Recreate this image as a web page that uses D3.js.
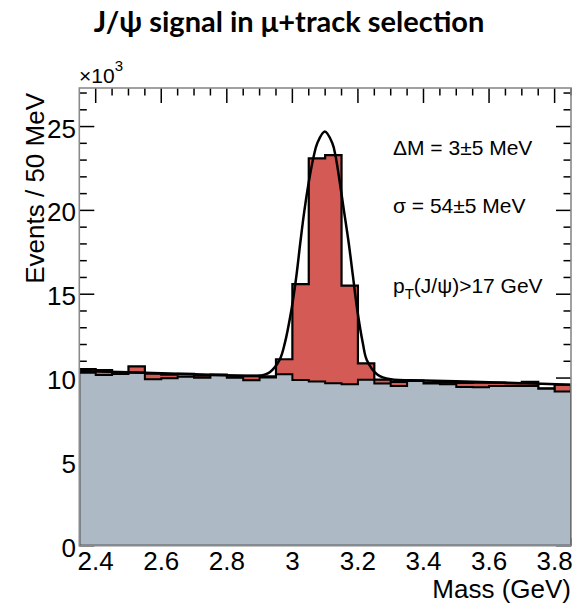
<!DOCTYPE html>
<html>
<head>
<meta charset="utf-8">
<script src="https://cdn.jsdelivr.net/npm/d3@7"></script>
<style>
  body { margin: 0; background: #fff; }
  svg { display: block; }
  text { font-family: "Liberation Sans", Arial, sans-serif; fill: #000; }
</style>
</head>
<body>
<svg id="chart" width="584" height="604"></svg>
<script>
// bin low edges (GeV), 50 MeV wide
var binLow = [2.35, 2.40, 2.45, 2.50, 2.55, 2.60, 2.65, 2.70, 2.75, 2.80,
              2.85, 2.90, 2.95, 3.00, 3.05, 3.10, 3.15, 3.20, 3.25, 3.30,
              3.35, 3.40, 3.45, 3.50, 3.55, 3.60, 3.65, 3.70, 3.75, 3.80];
var binWidth = 0.05;

// events per bin, in thousands
var dataCounts = [10.54, 10.48, 10.36, 10.70, 10.26, 10.20, 10.25, 10.14, 10.20, 10.14,
                  10.14, 10.10, 11.12, 15.60, 23.10, 23.30, 15.51, 10.88, 9.90, 9.77,
                  9.85, 9.71, 9.73, 9.71, 9.73, 9.73, 9.69, 9.77, 9.38, 9.60];
var bkgCounts = [10.32, 10.18, 10.24, 10.32, 9.93, 9.99, 10.08, 10.02, 10.17, 10.02,
                 9.87, 10.03, 10.23, 9.89, 9.79, 9.69, 9.63, 9.90, 9.68, 9.53,
                 9.83, 9.68, 9.63, 9.47, 9.45, 9.53, 9.53, 9.53, 9.36, 9.20];

// fit curve
var fitMass = [2.35, 2.50, 2.65, 2.80, 2.90, 2.931, 2.961, 2.977, 2.997, 3.012,
               3.024, 3.037, 3.053, 3.065, 3.076, 3.099, 3.122, 3.132, 3.142, 3.157,
               3.172, 3.185, 3.198, 3.215, 3.227, 3.26, 3.30, 3.40, 3.55, 3.70, 3.85];
var fitValue = [10.42, 10.34, 10.25, 10.17, 10.14, 10.35, 11.08, 12.08, 14.06, 16.05,
                18.04, 20.03, 22.02, 23.21, 24.01, 24.70, 24.01, 23.21, 22.02, 20.03,
                18.04, 16.05, 14.06, 12.08, 11.08, 10.2, 9.93, 9.86, 9.78, 9.69, 9.60];

var xTicks = [2.4, 2.6, 2.8, 3.0, 3.2, 3.4, 3.6, 3.8];
var yTicks = [0, 5, 10, 15, 20, 25];

var margin = {left: 79.3, right: 571, top: 88, bottom: 545.7};

var svg = d3.select("#chart");

var x = d3.scaleLinear().domain([2.35, 3.85]).range([margin.left, margin.right]);
var y = d3.scaleLinear().domain([0, 27.3]).range([margin.bottom, margin.top]);

// title
svg.append("text")
    .attr("x", 289)
    .attr("y", 32)
    .attr("text-anchor", "middle")
    .style("font-family", "Lato, 'Open Sans', sans-serif")
    .style("font-weight", "bold")
    .style("font-size", "29px")
    .text("J/\u03c8 signal in \u03bc+track selection");

// ticks (drawn first, histograms cover them)
var tickG = svg.append("g").attr("stroke", "#000").attr("stroke-width", 1.5);
var yMinor = d3.range(0, 28, 1);
yMinor.forEach(function (v) {
    var len = (v % 5 === 0) ? 15 : 7.5;
    tickG.append("line").attr("x1", margin.left).attr("x2", margin.left + len)
        .attr("y1", y(v)).attr("y2", y(v));
    tickG.append("line").attr("x1", margin.right).attr("x2", margin.right - len)
        .attr("y1", y(v)).attr("y2", y(v));
});
var xMinor = d3.range(2.40, 3.86, 0.05);
xMinor.forEach(function (v) {
    var major = Math.abs(Math.round(v * 5) - v * 5) < 1e-6;
    var len = major ? 15 : 7.5;
    tickG.append("line").attr("x1", x(v)).attr("x2", x(v))
        .attr("y1", margin.top).attr("y2", margin.top + len);
    tickG.append("line").attr("x1", x(v)).attr("x2", x(v))
        .attr("y1", margin.bottom).attr("y2", margin.bottom - len);
});

svg.append("clipPath").attr("id", "plotclip")
    .append("rect")
    .attr("x", margin.left).attr("y", margin.top)
    .attr("width", margin.right - margin.left)
    .attr("height", margin.bottom - margin.top);

var plot = svg.append("g").attr("clip-path", "url(#plotclip)");

function stepPath(values) {
    var p = d3.path();
    p.moveTo(x(binLow[0]), y(0));
    binLow.forEach(function (lo, i) {
        p.lineTo(x(lo), y(values[i]));
        p.lineTo(x(lo + binWidth), y(values[i]));
    });
    p.lineTo(x(binLow[binLow.length - 1] + binWidth), y(0));
    p.closePath();
    return p.toString();
}

// data (red) then background (grey) on top
plot.append("path")
    .attr("d", stepPath(dataCounts))
    .attr("fill", "#d35a55")
    .attr("stroke", "#000")
    .attr("stroke-width", 2.2)
    .attr("stroke-linejoin", "miter");

plot.append("path")
    .attr("d", stepPath(bkgCounts))
    .attr("fill", "#adbac5")
    .attr("stroke", "#000")
    .attr("stroke-width", 2)
    .attr("stroke-linejoin", "miter");

var fitPts = fitMass.map(function (m, i) { return [m, fitValue[i]]; });
var line = d3.line()
    .x(function (d) { return x(d[0]); })
    .y(function (d) { return y(d[1]); })
    .curve(d3.curveCatmullRom.alpha(0.5));

plot.append("path")
    .attr("d", line(fitPts))
    .attr("fill", "none")
    .attr("stroke", "#000")
    .attr("stroke-width", 2.5);

// frame
svg.append("rect")
    .attr("x", margin.left).attr("y", margin.top)
    .attr("width", margin.right - margin.left)
    .attr("height", margin.bottom - margin.top)
    .attr("fill", "none")
    .attr("stroke", "#8a8a8a")
    .attr("stroke-width", 1.6);

// tick labels
svg.append("g").selectAll("text").data(yTicks).join("text")
    .attr("x", 76)
    .attr("y", function (d) { return y(d) + 11; })
    .attr("text-anchor", "end")
    .style("font-size", "26px")
    .text(function (d) { return d; });

svg.append("g").selectAll("text").data(xTicks).join("text")
    .attr("x", function (d) { return x(d); })
    .attr("y", 570)
    .attr("text-anchor", "middle")
    .style("font-size", "26px")
    .text(function (d) { return d3.format("~g")(d); });

// axis titles
svg.append("text")
    .attr("x", 571).attr("y", 598)
    .attr("text-anchor", "end")
    .style("font-size", "26px")
    .text("Mass (GeV)");

svg.append("text")
    .attr("transform", "translate(44,93) rotate(-90)")
    .attr("text-anchor", "end")
    .style("font-size", "26px")
    .text("Events / 50 MeV");

// x10^3
var mult = svg.append("text").attr("x", 79).attr("y", 83).style("font-size", "21px");
mult.append("tspan").text("\u00d710");
mult.append("tspan").attr("dy", -12).style("font-size", "15px").text("3");

// fit annotations
var notes = svg.append("g").style("font-size", "21px");
notes.append("text").attr("x", 393).attr("y", 155).text("\u0394M = 3\u00b15 MeV");
notes.append("text").attr("x", 393).attr("y", 213).text("\u03c3 = 54\u00b15 MeV");
var pt = notes.append("text").attr("x", 393).attr("y", 293);
pt.append("tspan").text("p");
pt.append("tspan").attr("dy", 6).style("font-size", "15px").text("T");
pt.append("tspan").attr("dy", -6).text("(J/\u03c8)>17 GeV");
</script>
</body>
</html>
